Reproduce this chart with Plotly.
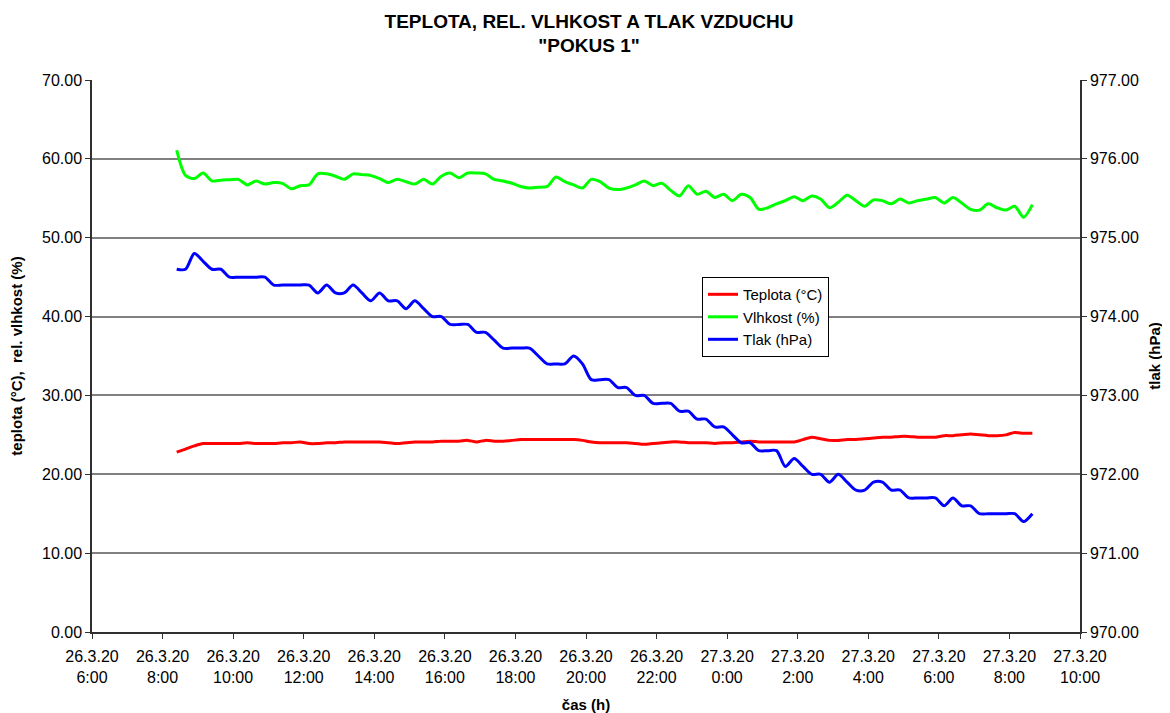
import pandas as pd
import plotly.graph_objects as go

# --- data -----------------------------------------------------------------
start_time = "2020-03-26 08:24"
step = "15min"

teplota = [22.8, 23.2, 23.6, 23.9, 23.9, 23.9, 23.9, 23.9, 24.0, 23.9,
           23.9, 23.9, 24.0, 24.0, 24.1, 23.9, 23.9, 24.0, 24.0, 24.1,
           24.1, 24.1, 24.1, 24.1, 24.0, 23.9, 24.0, 24.1, 24.1, 24.1,
           24.2, 24.2, 24.2, 24.3, 24.1, 24.3, 24.2, 24.2, 24.3, 24.4,
           24.4, 24.4, 24.4, 24.4, 24.4, 24.4, 24.3, 24.1, 24.0, 24.0,
           24.0, 24.0, 23.9, 23.8, 23.9, 24.0, 24.1, 24.1, 24.0, 24.0,
           24.0, 23.9, 24.0, 24.0, 24.1, 24.2, 24.1, 24.1, 24.1, 24.1,
           24.1, 24.4, 24.7, 24.5, 24.3, 24.3, 24.4, 24.4, 24.5, 24.6,
           24.7, 24.7, 24.8, 24.8, 24.7, 24.7, 24.7, 24.9, 24.9, 25.0,
           25.1, 25.0, 24.9, 24.9, 25.0, 25.3, 25.2, 25.2]

vlhkost = [61.1, 57.9, 57.5, 58.2, 57.2, 57.3, 57.35, 57.4, 56.7, 57.2,
           56.8, 57.0, 56.9, 56.2, 56.6, 56.7, 58.1, 58.1, 57.8, 57.4,
           58.1, 58.0, 57.9, 57.5, 57.0, 57.4, 57.1, 56.8, 57.4, 56.8,
           57.8, 58.2, 57.6, 58.2, 58.2, 58.1, 57.4, 57.2, 56.9, 56.5,
           56.3, 56.4, 56.5, 57.7, 57.1, 56.7, 56.3, 57.4, 57.1, 56.3,
           56.1, 56.3, 56.7, 57.2, 56.6, 56.9, 56.0, 55.3, 56.6, 55.5,
           55.9, 55.1, 55.5, 54.7, 55.5, 55.1, 53.6, 53.8, 54.3, 54.7,
           55.2, 54.7, 55.3, 54.9, 53.8, 54.5, 55.4, 54.7, 54.0, 54.8,
           54.7, 54.3, 54.9, 54.4, 54.7, 54.9, 55.1, 54.4, 55.1, 54.4,
           53.6, 53.5, 54.3, 53.8, 53.5, 54.0, 52.6, 54.2]

tlak = [974.6, 974.6, 974.8, 974.7, 974.6, 974.6, 974.5, 974.5, 974.5, 974.5,
        974.5, 974.4, 974.4, 974.4, 974.4, 974.4, 974.3, 974.4, 974.3, 974.3,
        974.4, 974.3, 974.2, 974.3, 974.2, 974.2, 974.1, 974.2, 974.1, 974.0,
        974.0, 973.9, 973.9, 973.9, 973.8, 973.8, 973.7, 973.6, 973.6, 973.6,
        973.6, 973.5, 973.4, 973.4, 973.4, 973.5, 973.4, 973.2, 973.2, 973.2,
        973.1, 973.1, 973.0, 973.0, 972.9, 972.9, 972.9, 972.8, 972.8, 972.7,
        972.7, 972.6, 972.6, 972.5, 972.4, 972.4, 972.3, 972.3, 972.3, 972.1,
        972.2, 972.1, 972.0, 972.0, 971.9, 972.0, 971.9, 971.8, 971.8, 971.9,
        971.9, 971.8, 971.8, 971.7, 971.7, 971.7, 971.7, 971.6, 971.7, 971.6,
        971.6, 971.5, 971.5, 971.5, 971.5, 971.5, 971.4, 971.5]

tick_times = ["2020-03-26 06:00", "2020-03-26 08:00", "2020-03-26 10:00",
              "2020-03-26 12:00", "2020-03-26 14:00", "2020-03-26 16:00",
              "2020-03-26 18:00", "2020-03-26 20:00", "2020-03-26 22:00",
              "2020-03-27 00:00", "2020-03-27 02:00", "2020-03-27 04:00",
              "2020-03-27 06:00", "2020-03-27 08:00", "2020-03-27 10:00"]
tick_labels = ["26.3.20<br>6:00", "26.3.20<br>8:00", "26.3.20<br>10:00",
               "26.3.20<br>12:00", "26.3.20<br>14:00", "26.3.20<br>16:00",
               "26.3.20<br>18:00", "26.3.20<br>20:00", "26.3.20<br>22:00",
               "27.3.20<br>0:00", "27.3.20<br>2:00", "27.3.20<br>4:00",
               "27.3.20<br>6:00", "27.3.20<br>8:00", "27.3.20<br>10:00"]

cas = pd.date_range(start=start_time, periods=len(teplota), freq=step)

# --- figure ---------------------------------------------------------------
FONT = "Arial, 'Liberation Sans', sans-serif"
AXC = "#303030"

fig = go.Figure()
fig.add_trace(go.Scatter(x=cas, y=teplota, name="Teplota (°C)", mode="lines",
                         line=dict(color="#FF0000", width=3, shape="spline", smoothing=0.8)))
fig.add_trace(go.Scatter(x=cas, y=vlhkost, name="Vlhkost (%)", mode="lines",
                         line=dict(color="#00FF00", width=3, shape="spline", smoothing=0.8)))
fig.add_trace(go.Scatter(x=cas, y=tlak, name="Tlak (hPa)", mode="lines", yaxis="y2",
                         line=dict(color="#0000FF", width=3, shape="spline", smoothing=0.8)))

fig.update_layout(
    width=1162, height=705,
    margin=dict(l=84, r=90, t=72, b=81, autoexpand=False),
    paper_bgcolor="white", plot_bgcolor="white",
    font=dict(family=FONT, size=16, color="black"),
    title=dict(text="<b>TEPLOTA, REL. VLHKOST A TLAK VZDUCHU<br>\"POKUS 1\"</b>",
               x=0.5, xanchor="center", y=0.972, yanchor="top",
               font=dict(family=FONT, size=19, color="black")),
    xaxis=dict(
        type="date", range=[tick_times[0], tick_times[-1]],
        tickvals=tick_times, ticktext=tick_labels,
        showgrid=False, zeroline=False,
        showline=True, linecolor=AXC, linewidth=1.5,
        ticks="outside", ticklen=5, tickcolor=AXC,
        tickfont=dict(size=16), ticklabelstandoff=4,
        title=dict(text="<b>čas (h)</b>", font=dict(size=15), standoff=16),
        automargin=False,
    ),
    yaxis=dict(
        range=[0, 70], dtick=10, tickformat=".2f",
        showgrid=True, gridcolor="#808080", gridwidth=1.5,
        zeroline=False,
        showline=True, linecolor=AXC, linewidth=1.5,
        ticks="outside", ticklen=5, tickcolor=AXC,
        tickfont=dict(size=16),
        title=dict(text="<b>teplota (°C),  rel. vlhkost (%)</b>", font=dict(size=15), standoff=16),
        automargin=False,
    ),
    yaxis2=dict(
        range=[970, 977], dtick=1, tickformat=".2f",
        overlaying="y", side="right",
        showgrid=False, zeroline=False,
        showline=True, linecolor=AXC, linewidth=1.5,
        ticks="outside", ticklen=5, tickcolor=AXC,
        tickfont=dict(size=16),
        title=dict(text="<b>tlak (hPa)</b>", font=dict(size=15), standoff=12),
        automargin=False,
    ),
    legend=dict(
        x=0.6174, y=0.643, xanchor="left", yanchor="top",
        bgcolor="white", bordercolor="black", borderwidth=1,
        font=dict(size=15), tracegroupgap=0,
        itemwidth=30,
    ),
    showlegend=True,
)

fig.write_html("out.html")
